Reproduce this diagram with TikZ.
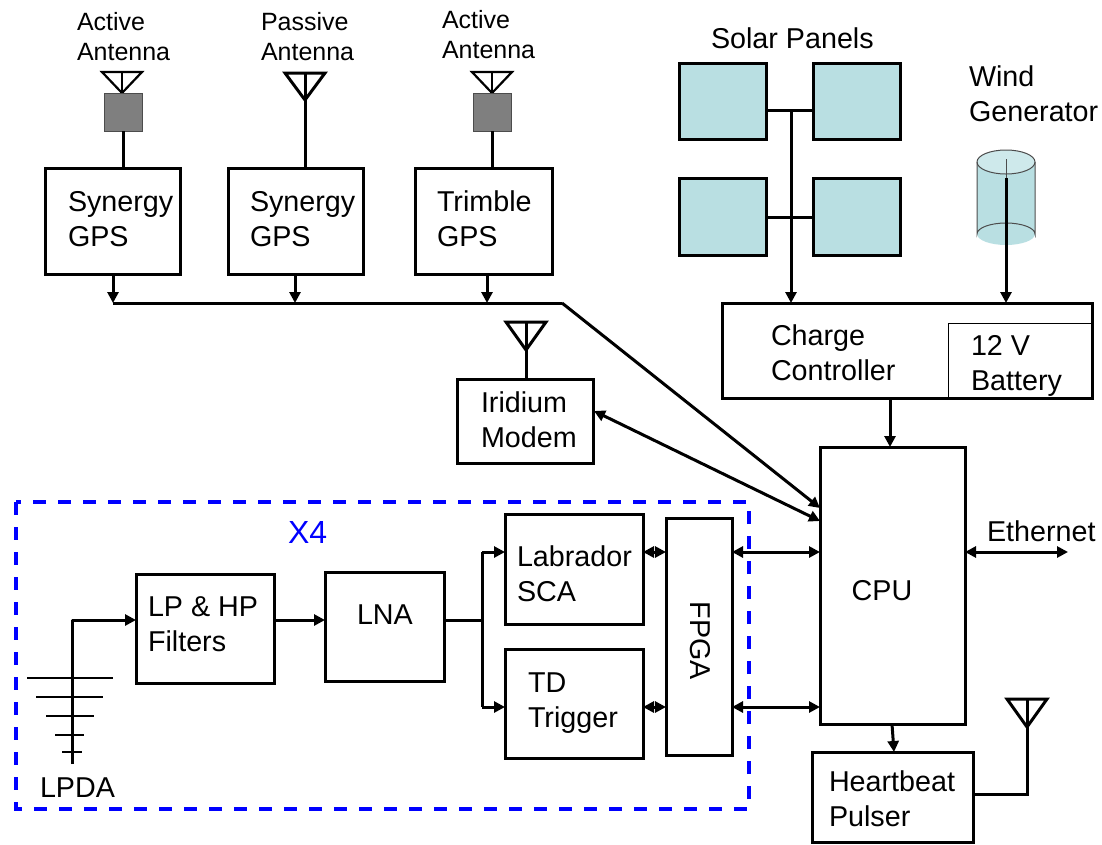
\documentclass[tikz,border=0pt]{standalone}
\usepackage{fontspec}
\setmainfont{Liberation Sans}
\usetikzlibrary{arrows.meta}
\definecolor{panel}{HTML}{B9DFE2}
\definecolor{dgray}{HTML}{7F7F7F}
\tikzset{
  x=1pt,y=-1pt,
  wire/.style={line width=3pt,black},
  arr/.style={wire,-{Triangle[length=11pt,width=11pt]}},
  darr/.style={wire,{Triangle[length=11pt,width=11pt]}-{Triangle[length=11pt,width=11pt]}},
  boxs/.style={draw=black,line width=3pt,inner sep=0pt,outer sep=0pt,fill=none},
  solar/.style={boxs,fill=panel},
  amp/.style={draw=dgray!60!black,line width=1pt,fill=dgray,inner sep=0pt,outer sep=0pt},
  thinbox/.style={draw=black,line width=1pt,inner sep=0pt,outer sep=0pt},
  lab/.style={font=\fontsize{28.7}{35}\selectfont,align=left,anchor=west,inner sep=0pt,outer sep=0pt},
  small/.style={font=\fontsize{25}{30}\selectfont,align=left,anchor=west,inner sep=0pt,outer sep=0pt},
  elem/.style={line width=2.4pt,black},
}
\newcommand{\bx}[6][boxs]{\node[#1,minimum width={(#5-#3)*1pt},minimum height={(#6-#4)*1pt}] (#2) at ({(#3+#5)/2},{(#4+#6)/2}) {};}
% antenna: x centre, top y, half width, apex y
\newcommand{\antn}[5][3pt]{\draw[line width=#1,line join=miter] (#2-#4,#3) -- (#2+#4,#3) -- (#2,#5) -- cycle; \draw[line width=#1] (#2,#3) -- (#2,#5);}
\begin{document}
\begin{tikzpicture}
\useasboundingbox (0,0) rectangle (1102,844);
% X4 frame
\draw[blue,line width=3.6pt,dash pattern=on 13pt off 12pt] (16,502) rectangle (749,809);
\node[lab,text=blue,font=\fontsize{32}{35}\selectfont] (x4) at (288,532) {X4};
% GPS boxes
\bx{syn1}{45}{168}{180}{274}
\bx{syn2}{228}{168}{363}{274}
\bx{trim}{415}{168}{552}{274}
\node[lab] (t1) at (68,219) {Synergy\\GPS};
\node[lab] (t2) at (250,219) {Synergy\\GPS};
\node[lab] (t3) at (437,219) {Trimble\\GPS};
% antennas
\antn[2.2pt]{122}{72}{20}{93}
\bx[amp]{amp1}{104}{93}{142}{131}
\antn[2.2pt]{492}{72}{20}{93}
\bx[amp]{amp3}{473}{93}{511}{131}
\antn[3pt]{305}{73}{20}{100}
\coordinate (pa) at (305,100);
\draw[wire] (amp1.south) -- (amp1.south |- syn1.north);
\draw[wire] (amp3.south) -- (amp3.south |- trim.north);
\draw[wire] (pa) -- (pa |- syn2.north);
\node[small] (a1) at (77,37) {Active\\Antenna};
\node[small] (a2) at (261,37) {Passive\\Antenna};
\node[small] (a3) at (442,34.5) {Active\\Antenna};
% bus
\coordinate (b1) at (113,303);
\coordinate (b2) at (295,303);
\coordinate (b3) at (487,303);
\coordinate (bk) at (562,303);
\draw[wire,line join=miter] (b1) -- (bk);
\draw[arr] (syn1.south -| b1) -- (b1);
\draw[arr] (syn2.south -| b2) -- (b2);
\draw[arr] (trim.south -| b3) -- (b3);
% solar
\node[lab] (sp) at (711,38) {Solar Panels};
\bx[solar]{s1}{679}{63}{766}{139}
\bx[solar]{s2}{813}{63}{900}{139}
\bx[solar]{s3}{679}{178}{766}{255}
\bx[solar]{s4}{813}{178}{900}{255}
\coordinate (j1) at (791,110);
\coordinate (j2) at (791,217);
\coordinate (s1r) at (766,110);
\coordinate (s2l) at (813,110);
\coordinate (s3r) at (766,217);
\coordinate (s4l) at (813,217);
\draw[wire] (s1r) -- (s2l);
\draw[wire] (s3r) -- (s4l);
% wind
\node[lab] (wg) at (969,94) {Wind\\Generator};
\fill[panel] (977,162) rectangle (1035,234);
\fill[panel] (1006,234) ellipse[x radius=29,y radius=11];
\fill[panel!70!white] (1006,162) ellipse[x radius=29,y radius=12];
\draw[line width=1pt,black!70] (977,162) -- (977,234) arc[start angle=180,end angle=360,x radius=29,y radius=11] -- (1035,162);
\draw[line width=1pt,black!70] (1006,162) ellipse[x radius=29,y radius=12];
\draw[line width=.8pt,black!70] (1006,159) -- (1006,178);
\coordinate (wtop) at (1006,178);
% charge controller
\bx[thinbox]{batt}{948}{323}{1092}{398}
\bx{chg}{722}{303}{1092}{398}
\node[lab] (tc) at (771,352.5) {Charge\\Controller};
\node[lab] (tb) at (971,366) {12 V\\Battery};
\draw[arr] (j1) -- (j1 |- chg.north);
\draw[arr] (wtop) -- (wtop |- chg.north);
% CPU
\bx{cpu}{820}{447}{965}{724}
\node[lab,anchor=center] (tcpu) at (882,591) {CPU};
\coordinate (c0) at (890,398);
\draw[arr] (c0) -- (c0 |- cpu.north);
\coordinate (cb) at (820,508);
\draw[arr] (bk) -- (cb);
% Iridium
\bx{iri}{457}{379}{593}{463}
\node[lab] (ti) at (481,420) {Iridium\\Modem};
\antn[3pt]{526}{322}{20}{350}
\coordinate (ia) at (526,350);
\draw[wire] (ia) -- (ia |- iri.north);
\coordinate (ir) at (594,411);
\coordinate (ci) at (820,521);
\draw[darr] (ir) -- (ci);
% X4 inside
\bx{lphp}{136}{574}{274}{683}
\node[lab] (tl) at (148,624) {LP \& HP\\Filters};
\bx{lna}{325}{572}{444}{681}
\node[lab] (tn) at (357,615) {LNA};
\bx{lab1}{505}{514}{643}{624}
\node[lab] (tlab) at (517,574) {Labrador\\SCA};
\bx{tdt}{505}{649}{643}{758}
\node[lab] (ttd) at (528,703) {TD\\Trigger};
\bx{fpga}{666}{518}{732}{755}
\node[lab,anchor=center,rotate=-90] (tf) at (700,641) {FPGA};
% LPDA
\coordinate (ld) at (72,764);
\coordinate (lt) at (72,620);
\draw[arr,line join=round] (ld) -- (lt) -- (lphp.west |- lt);
\foreach \y/\a/\b in {678/27/113,697/36/103,716/46/94,735/55/84,752/62/82}
  \draw[elem] (\a,\y) -- (\b,\y);
\node[lab] (tlp) at (40,788) {LPDA};
\coordinate (lp1) at (274,620);
\coordinate (ln1) at (325,620);
\draw[arr] (lp1) -- (ln1);
\coordinate (sp0) at (444,620);
\coordinate (spl) at (482,620);
\coordinate (la) at (505,552);
\coordinate (tda) at (505,707);
\draw[wire] (sp0) -- (spl);
\draw[arr,line join=round] (la -| spl) -- (la) ;
\draw[arr,line join=round] (tda -| spl) -- (tda);
\draw[wire] (la -| spl) -- (tda -| spl);
\coordinate (y1) at (0,552);
\coordinate (y2) at (0,707);
\draw[darr] (lab1.east |- y1) -- (fpga.west |- y1);
\draw[darr] (tdt.east |- y2) -- (fpga.west |- y2);
\draw[darr] (fpga.east |- y1) -- (cpu.west |- y1);
\draw[darr] (fpga.east |- y2) -- (cpu.west |- y2);
% Ethernet
\coordinate (eth) at (1068,552);
\draw[darr] (cpu.east |- eth) -- (eth);
\node[lab] (te) at (987,531) {Ethernet};
% Heartbeat
\bx{hb}{812}{752}{973}{842}
\node[lab] (th) at (829,798.5) {Heartbeat\\Pulser};
\coordinate (cpb) at (892,724);
\coordinate (hbt) at (894,752);
\draw[arr] (cpb) -- (hbt);
\antn[3pt]{1027}{699}{20}{727}
\coordinate (ha) at (1027,727);
\coordinate (hj) at (1027,794);
\coordinate (hl) at (973,794);
\draw[wire,line join=miter] (hl) -- (hj) -- (ha);
\end{tikzpicture}
\end{document}
